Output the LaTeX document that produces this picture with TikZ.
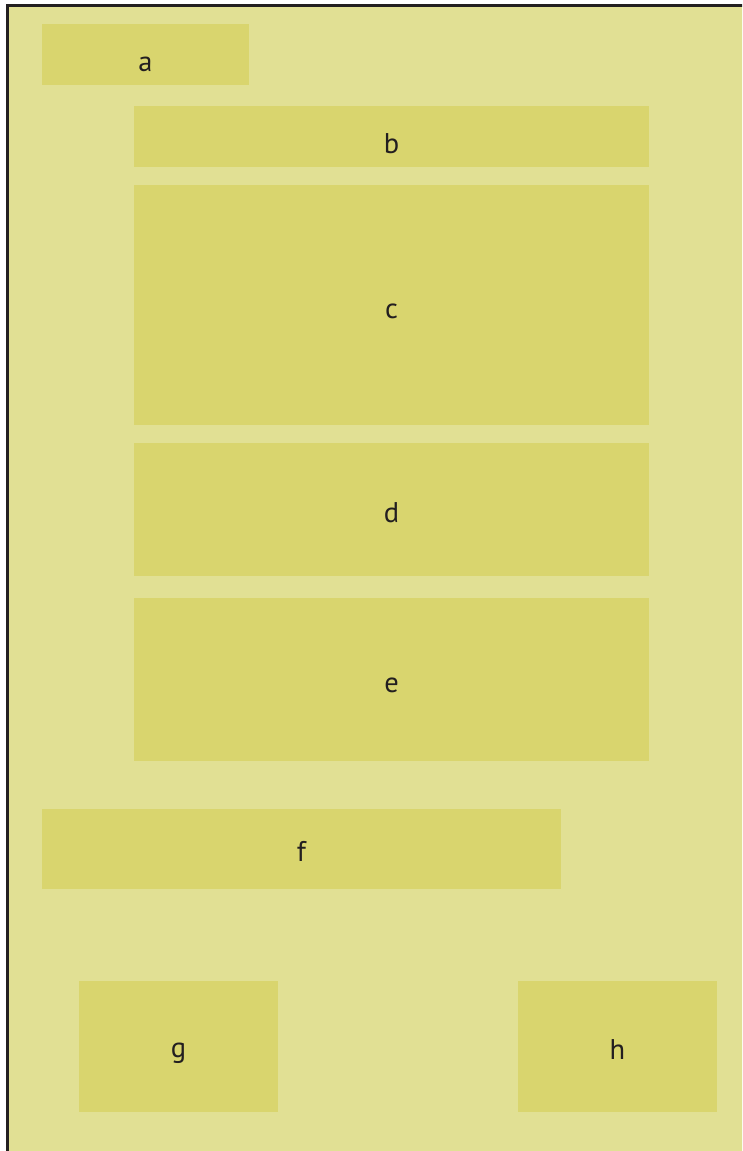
\documentclass[tikz,border=0pt]{standalone}
\usepackage{fontspec}
\setmainfont{PT Sans}
\definecolor{bgyellow}{RGB}{225,224,148}
\definecolor{boxyellow}{RGB}{217,213,110}
\definecolor{framedark}{RGB}{35,31,32}
\begin{document}
\begin{tikzpicture}[x=1pt,y=-1pt,
  panel/.style={draw=none, fill=boxyellow, inner sep=0pt, outer sep=0pt,
    font=\fontsize{28.5}{32}\selectfont, text=framedark,
    text height=25pt, text depth=0pt}]
\useasboundingbox (0,0) rectangle (742,1151);
\fill[white] (0,0) rectangle (742,1151);
\begin{scope}
\clip (0,0) rectangle (742,1151);
\draw[framedark, line width=3pt, fill=bgyellow] (7.5,5.5) rectangle (760,1170);
\end{scope}
\node[panel, minimum width=207pt, minimum height=61pt, text height=34pt] (a) at (145.5,54.5) {a};
\node[panel, minimum width=515pt, minimum height=61pt, text height=33pt] (b) at (391.5,136.5) {b};
\node[panel, minimum width=515pt, minimum height=240pt, text height=26pt] (c) at (391.5,305) {c};
\node[panel, minimum width=515pt, minimum height=133pt] (d) at (391.5,509.5) {d};
\node[panel, minimum width=515pt, minimum height=163pt] (e) at (391.5,679.5) {e};
\node[panel, minimum width=519pt, minimum height=80pt] (f) at (301.5,849) {f};
\node[panel, minimum width=199pt, minimum height=131pt, text height=21pt] (g) at (178.5,1046.5) {g};
\node[panel, minimum width=199pt, minimum height=131pt] (h) at (617.5,1046.5) {h};
\end{tikzpicture}
\end{document}
